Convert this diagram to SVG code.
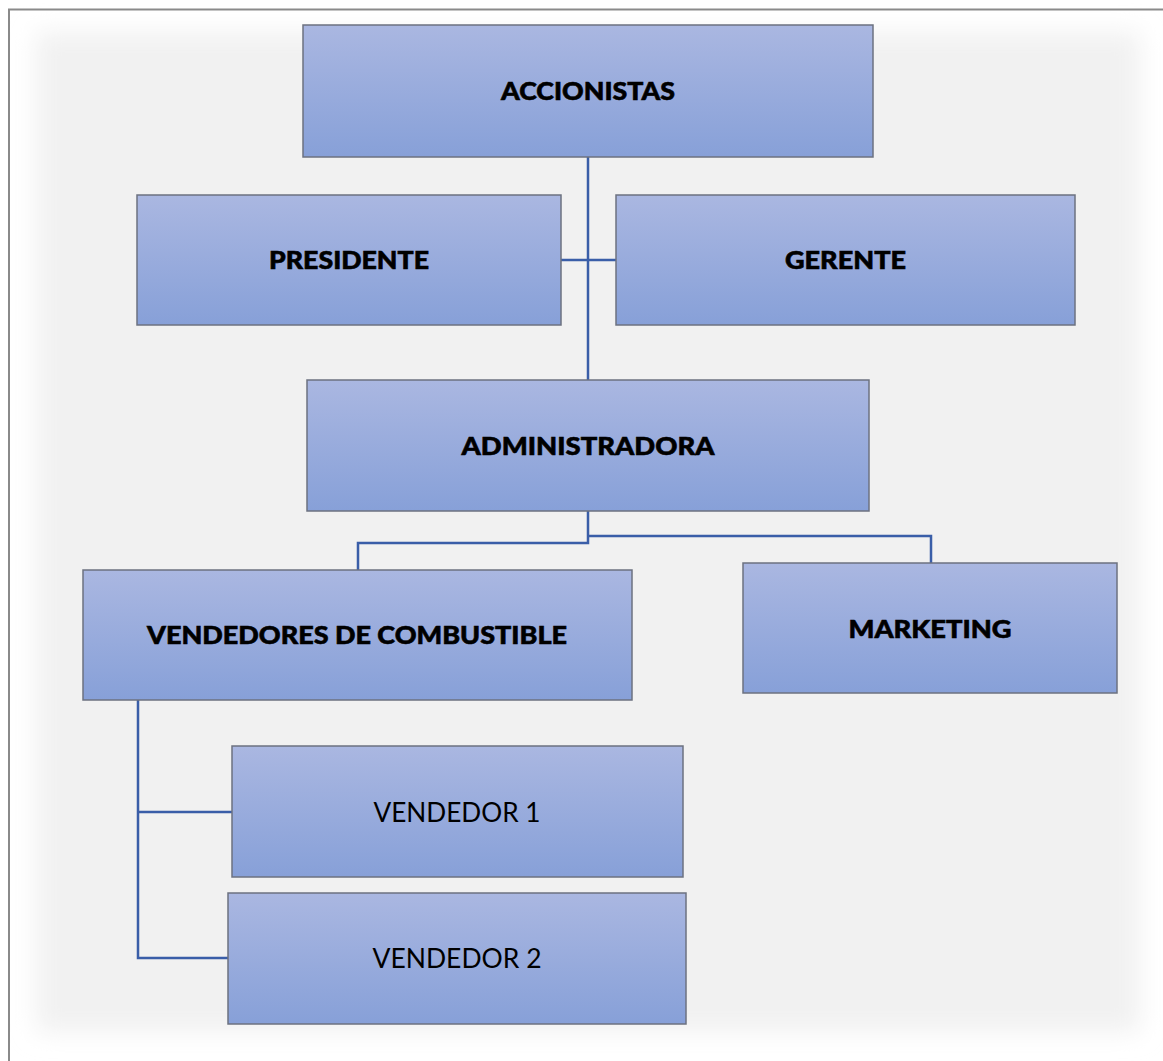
<svg xmlns="http://www.w3.org/2000/svg" width="1163" height="1061" viewBox="0 0 1163 1061">
  <defs>
    <linearGradient id="boxFill" x1="0" y1="0" x2="0" y2="1">
      <stop offset="0" stop-color="#aab7e1"/>
      <stop offset="1" stop-color="#87a0d8"/>
    </linearGradient>
    <filter id="soft" x="-10%" y="-10%" width="120%" height="120%">
      <feGaussianBlur stdDeviation="12"/>
    </filter>
    <style>
      .box { fill: url(#boxFill); stroke: #6c7280; stroke-width: 1.5; }
      .lbl { font-family: Lato, "Open Sans", "Liberation Sans", sans-serif; font-size: 25.5px; font-weight: 900; fill: #000000; stroke: #000000; stroke-width: 0.6; text-anchor: middle; }
      .lblr { font-family: Lato, "Open Sans", "Liberation Sans", sans-serif; font-size: 26px; font-weight: normal; fill: #000000; text-anchor: middle; }
      .conn { fill: none; stroke: #3a5ea8; stroke-width: 2.5; }
    </style>
  </defs>

  <!-- background -->
  <rect x="0" y="0" width="1163" height="1061" fill="#ffffff"/>
  <rect x="36" y="32" width="1104" height="1000" fill="#f1f1f1" filter="url(#soft)"/>
  <path d="M9 1061 V9.5 H1163" fill="none" stroke="#8a8a8a" stroke-width="2"/>

  <!-- connectors -->
  <g id="connectors">
    <line class="conn" x1="588" y1="157" x2="588" y2="380"/>
    <line class="conn" x1="561" y1="260" x2="616" y2="260"/>
    <polyline class="conn" points="588,511 588,543 358,543 358,570"/>
    <polyline class="conn" points="588,536 931,536 931,563"/>
    <polyline class="conn" points="138,700 138,958 228,958"/>
    <line class="conn" x1="138" y1="812" x2="232" y2="812"/>
  </g>

  <g id="accionistas">
    <rect class="box" x="303" y="25" width="570" height="132"/>
    <text class="lbl" x="588" y="99.5" textLength="174" lengthAdjust="spacingAndGlyphs">ACCIONISTAS</text>
  </g>
  <g id="presidente">
    <rect class="box" x="137" y="195" width="424" height="130"/>
    <text class="lbl" x="349" y="268.5" textLength="160" lengthAdjust="spacingAndGlyphs">PRESIDENTE</text>
  </g>
  <g id="gerente">
    <rect class="box" x="616" y="195" width="459" height="130"/>
    <text class="lbl" x="845.5" y="268.5" textLength="121" lengthAdjust="spacingAndGlyphs">GERENTE</text>
  </g>
  <g id="administradora">
    <rect class="box" x="307" y="380" width="562" height="131"/>
    <text class="lbl" x="588" y="454.5" textLength="253" lengthAdjust="spacingAndGlyphs">ADMINISTRADORA</text>
  </g>
  <g id="vendedores">
    <rect class="box" x="83" y="570" width="549" height="130"/>
    <text class="lbl" x="357" y="643.5" textLength="420" lengthAdjust="spacingAndGlyphs">VENDEDORES DE COMBUSTIBLE</text>
  </g>
  <g id="marketing">
    <rect class="box" x="743" y="563" width="374" height="130"/>
    <text class="lbl" x="930" y="637.5" textLength="163" lengthAdjust="spacingAndGlyphs">MARKETING</text>
  </g>
  <g id="vendedor1">
    <rect class="box" x="232" y="746" width="451" height="131"/>
    <text class="lblr" x="457" y="822" textLength="167" lengthAdjust="spacingAndGlyphs">VENDEDOR 1</text>
  </g>
  <g id="vendedor2">
    <rect class="box" x="228" y="893" width="458" height="131"/>
    <text class="lblr" x="457" y="968" textLength="169" lengthAdjust="spacingAndGlyphs">VENDEDOR 2</text>
  </g>
</svg>
